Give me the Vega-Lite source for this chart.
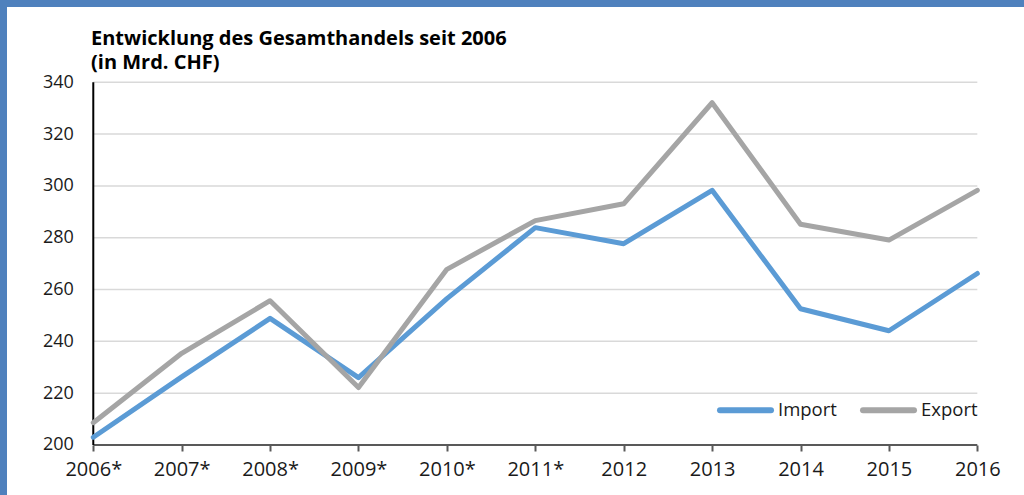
{
  "$schema": "https://vega.github.io/schema/vega-lite/v6.json",
  "width": 1017,
  "height": 488,
  "autosize": {"type": "none"},
  "padding": {"left": 7, "top": 7, "right": 0, "bottom": 0},
  "background": "#4f81bd",
  "title": {
    "text": ["Entwicklung des Gesamthandels seit 2006", "(in Mrd. CHF)"],
    "anchor": "start",
    "frame": "group",
    "orient": "top",
    "fontSize": 20,
    "fontWeight": "bold",
    "font": "Open Sans",
    "color": "#000000",
    "lineHeight": 24,
    "baseline": "alphabetic",
    "offset": -82,
    "dx": 84
  },
  "config": {
    "font": "Open Sans",
    "view": {"fill": "#ffffff", "stroke": null}
  },
  "layer": [
    {
      "data": {"values": [{"v": 220}, {"v": 240}, {"v": 260}, {"v": 280}, {"v": 300}, {"v": 320}, {"v": 340}]},
      "mark": {"type": "rule", "color": "#d9d9d9", "strokeWidth": 1.5},
      "encoding": {
        "x": {"datum": 2006, "type": "quantitative", "title": null},
        "x2": {"datum": 2016},
        "y": {"field": "v", "type": "quantitative", "title": null}
      }
    },
    {
      "data": {"values": [{"axis": "x"}]},
      "mark": {"type": "rule", "color": "#595959", "strokeWidth": 2},
      "encoding": {
        "x": {"datum": 2006, "type": "quantitative", "title": null},
        "x2": {"datum": 2016},
        "y": {"datum": 200, "type": "quantitative", "title": null}
      }
    },
    {
      "data": {"values": [{"axis": "y"}]},
      "mark": {"type": "rule", "color": "#000000", "strokeWidth": 2},
      "encoding": {
        "x": {"datum": 2006, "type": "quantitative", "title": null},
        "y": {"datum": 200, "type": "quantitative", "title": null},
        "y2": {"datum": 340}
      }
    },
    {
      "data": {
        "values": [
          {"year": 2006, "series": "Import", "value": 203.0},
          {"year": 2007, "series": "Import", "value": 226.3},
          {"year": 2008, "series": "Import", "value": 248.9},
          {"year": 2009, "series": "Import", "value": 226.0},
          {"year": 2010, "series": "Import", "value": 256.5},
          {"year": 2011, "series": "Import", "value": 283.9},
          {"year": 2012, "series": "Import", "value": 277.7},
          {"year": 2013, "series": "Import", "value": 298.3},
          {"year": 2014, "series": "Import", "value": 252.6},
          {"year": 2015, "series": "Import", "value": 244.1},
          {"year": 2016, "series": "Import", "value": 266.2},
          {"year": 2006, "series": "Export", "value": 208.6},
          {"year": 2007, "series": "Export", "value": 235.4},
          {"year": 2008, "series": "Export", "value": 255.7},
          {"year": 2009, "series": "Export", "value": 222.2},
          {"year": 2010, "series": "Export", "value": 267.8},
          {"year": 2011, "series": "Export", "value": 286.6},
          {"year": 2012, "series": "Export", "value": 293.1},
          {"year": 2013, "series": "Export", "value": 332.1},
          {"year": 2014, "series": "Export", "value": 285.2},
          {"year": 2015, "series": "Export", "value": 279.1},
          {"year": 2016, "series": "Export", "value": 298.3}
        ]
      },
      "mark": {"type": "line", "strokeWidth": 5, "strokeCap": "round", "strokeJoin": "round"},
      "encoding": {
        "x": {
          "field": "year",
          "type": "quantitative",
          "title": null,
          "scale": {"domain": [2005.024, 2016.528], "nice": false, "zero": false},
          "axis": {
            "orient": "bottom",
            "offset": -50,
            "values": [2006, 2007, 2008, 2009, 2010, 2011, 2012, 2013, 2014, 2015, 2016],
            "labelExpr": "datum.value <= 2011 ? datum.value + '*' : '' + datum.value",
            "domain": false,
            "grid": false,
            "ticks": true,
            "tickSize": 6,
            "tickWidth": 2,
            "tickColor": "#595959",
            "labelFontSize": 20,
            "labelColor": "#1a1a1a",
            "labelPadding": 8,
            "labelFlush": false,
            "labelOverlap": false
          }
        },
        "y": {
          "field": "value",
          "type": "quantitative",
          "title": null,
          "scale": {"domain": [180.7, 369.06], "nice": false, "zero": false},
          "axis": {
            "orient": "left",
            "offset": -86.3,
            "values": [200, 220, 240, 260, 280, 300, 320, 340],
            "domain": false,
            "grid": false,
            "ticks": false,
            "labelFontSize": 18,
            "labelColor": "#1a1a1a",
            "labelPadding": 20,
            "labelFlush": false,
            "labelOverlap": false
          }
        },
        "color": {
          "field": "series",
          "type": "nominal",
          "scale": {"domain": ["Import", "Export"], "range": ["#5b9bd5", "#a5a5a5"]},
          "legend": {
            "title": null,
            "orient": "none",
            "direction": "horizontal",
            "legendX": 710,
            "legendY": 374.5,
            "symbolType": "stroke",
            "symbolSize": 2601,
            "symbolStrokeWidth": 6,
            "labelFontSize": 18.5,
            "labelColor": "#1a1a1a",
            "labelOffset": 4,
            "columnPadding": 14,
            "padding": 0,
            "encode": {"symbols": {"update": {"strokeCap": {"value": "round"}}}}
          }
        }
      }
    }
  ]
}
